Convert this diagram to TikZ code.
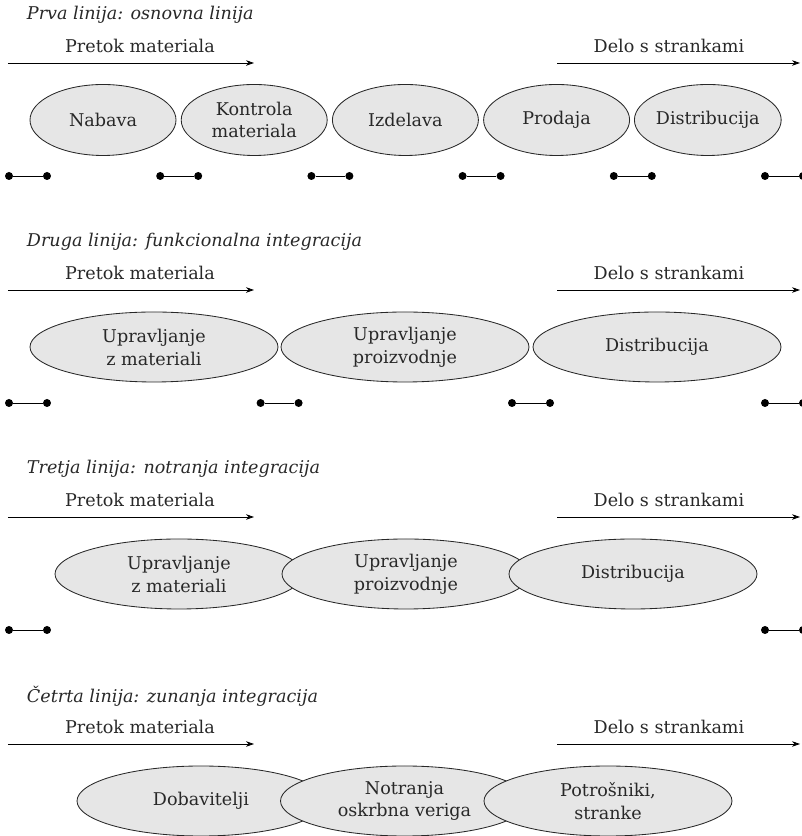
\documentclass[tikz,border=0pt]{standalone}
\usepackage{fontspec}
\setmainfont{DejaVu Serif}
\usepackage{xcolor}
\definecolor{stagefill}{RGB}{230,230,230}
\definecolor{inkgray}{RGB}{40,40,40}
\usetikzlibrary{positioning, arrows.meta, shapes}

\begin{document}
\begin{tikzpicture}[
    % GLOBAL CFG
    font=\fontsize{12.5}{16.3}\selectfont,
    >={Stealth[length=2mm,width=1.4mm]},
    % Styles
    stage/.style={% small ellipses of the first line
        ellipse,
        draw=inkgray,
        fill=stagefill,
        line width=.6pt,
        text=inkgray,
        align=center,
        inner sep=0pt,
        minimum width=3.65cm,
        minimum height=1.775cm,
        },
    widestage/.style={% wide ellipses of the other lines
        stage,
        minimum width=6.2cm,
        minimum height=1.75cm,
        },
    joint/.style={% black end points
        circle,
        fill=black,
        inner sep=0pt,
        minimum size=2mm,
        },
    flowlabel/.style={% text above the arrows
        text=inkgray,
        },
    linetitle/.style={% italic title of each line
        anchor=west,
        text=inkgray,
        font=\fontsize{12.5}{16.3}\selectfont\itshape,
        },
    flow/.style={% thin arrows
        ->,
        line width=.6pt,
        },
    link/.style={% short link between two points
        line width=.65pt,
        },
    ]

    \useasboundingbox (0,0) rectangle (20.025,20.9);

% Prva linija
    \node[linetitle] (t1) at (0.55,20.525) {Prva linija: osnovna linija};
    \node[flowlabel] (pm1) at (3.5,19.75) {Pretok materiala};
    \node[flowlabel] (ds1) at (16.725,19.75) {Delo s strankami};
    \coordinate (pa1) at (0.2,19.325);
    \coordinate (pb1) at (6.35,19.325);
    \coordinate (da1) at (13.925,19.325);
    \coordinate (db1) at (20.0,19.325);

    \node[stage] (nab) at (2.575,17.9) {Nabava};
    \node[stage] (kon) at (6.355,17.9) {Kontrola\\materiala};
    \node[stage] (izd) at (10.135,17.9) {Izdelava};
    \node[stage] (pro) at (13.915,17.9) {Prodaja};
    \node[stage] (dis1) at (17.695,17.9) {Distribucija};

    \node[joint] (j1a) at (0.225,16.5) {};
    \node[joint] (j1b) at (1.175,16.5) {};
    \node[joint] (j1c) at (4.005,16.5) {};
    \node[joint] (j1d) at (4.955,16.5) {};
    \node[joint] (j1e) at (7.785,16.5) {};
    \node[joint] (j1f) at (8.735,16.5) {};
    \node[joint] (j1g) at (11.565,16.5) {};
    \node[joint] (j1h) at (12.515,16.5) {};
    \node[joint] (j1i) at (15.345,16.5) {};
    \node[joint] (j1j) at (16.295,16.5) {};
    \node[joint] (j1k) at (19.125,16.5) {};
    \node[joint] (j1l) at (20.075,16.5) {};

% Druga linija
    \node[linetitle] (t2) at (0.55,14.85) {Druga linija: funkcionalna integracija};
    \node[flowlabel] (pm2) at (3.5,14.075) {Pretok materiala};
    \node[flowlabel] (ds2) at (16.725,14.075) {Delo s strankami};
    \coordinate (pa2) at (0.2,13.65);
    \coordinate (pb2) at (6.35,13.65);
    \coordinate (da2) at (13.925,13.65);
    \coordinate (db2) at (20.0,13.65);

    \node[widestage] (upm2) at (3.85,12.225) {Upravljanje\\z materiali};
    \node[widestage] (upp2) at (10.125,12.225) {Upravljanje\\proizvodnje};
    \node[widestage] (dis2) at (16.425,12.225) {Distribucija};

    \node[joint] (j2a) at (0.225,10.825) {};
    \node[joint] (j2b) at (1.175,10.825) {};
    \node[joint] (j2c) at (6.515,10.825) {};
    \node[joint] (j2d) at (7.465,10.825) {};
    \node[joint] (j2e) at (12.8,10.825) {};
    \node[joint] (j2f) at (13.75,10.825) {};
    \node[joint] (j2g) at (19.125,10.825) {};
    \node[joint] (j2h) at (20.075,10.825) {};

% Tretja linija
    \node[linetitle] (t3) at (0.55,9.175) {Tretja linija: notranja integracija};
    \node[flowlabel] (pm3) at (3.5,8.4) {Pretok materiala};
    \node[flowlabel] (ds3) at (16.725,8.4) {Delo s strankami};
    \coordinate (pa3) at (0.2,7.975);
    \coordinate (pb3) at (6.35,7.975);
    \coordinate (da3) at (13.925,7.975);
    \coordinate (db3) at (20.0,7.975);

    \node[widestage] (upm3) at (4.475,6.55) {Upravljanje\\z materiali};
    \node[widestage] (upp3) at (10.15,6.55) {Upravljanje\\proizvodnje};
    \node[widestage] (dis3) at (15.825,6.55) {Distribucija};

    \node[joint] (j3a) at (0.225,5.15) {};
    \node[joint] (j3b) at (1.175,5.15) {};
    \node[joint] (j3c) at (19.125,5.15) {};
    \node[joint] (j3d) at (20.075,5.15) {};

% Četrta linija
    \node[linetitle] (t4) at (0.55,3.5) {Četrta linija: zunanja integracija};
    \node[flowlabel] (pm4) at (3.5,2.725) {Pretok materiala};
    \node[flowlabel] (ds4) at (16.725,2.725) {Delo s strankami};
    \coordinate (pa4) at (0.2,2.3);
    \coordinate (pb4) at (6.35,2.3);
    \coordinate (da4) at (13.925,2.3);
    \coordinate (db4) at (20.0,2.3);

    \node[widestage] (dob) at (5.025,0.875) {Dobavitelji};
    \node[widestage] (nov) at (10.1125,0.875) {Notranja\\oskrbna veriga};
    \node[widestage] (pot) at (15.2,0.875) {Potrošniki,\\stranke};

% Arrows
    \draw [flow] (pa1) -- (pb1);
    \draw [flow] (da1) -- (db1);
    \draw [flow] (pa2) -- (pb2);
    \draw [flow] (da2) -- (db2);
    \draw [flow] (pa3) -- (pb3);
    \draw [flow] (da3) -- (db3);
    \draw [flow] (pa4) -- (pb4);
    \draw [flow] (da4) -- (db4);

% Links
    \draw [link] (j1a) -- (j1b);
    \draw [link] (j1c) -- (j1d);
    \draw [link] (j1e) -- (j1f);
    \draw [link] (j1g) -- (j1h);
    \draw [link] (j1i) -- (j1j);
    \draw [link] (j1k) -- (j1l);
    \draw [link] (j2a) -- (j2b);
    \draw [link] (j2c) -- (j2d);
    \draw [link] (j2e) -- (j2f);
    \draw [link] (j2g) -- (j2h);
    \draw [link] (j3a) -- (j3b);
    \draw [link] (j3c) -- (j3d);

\end{tikzpicture}
\end{document}
